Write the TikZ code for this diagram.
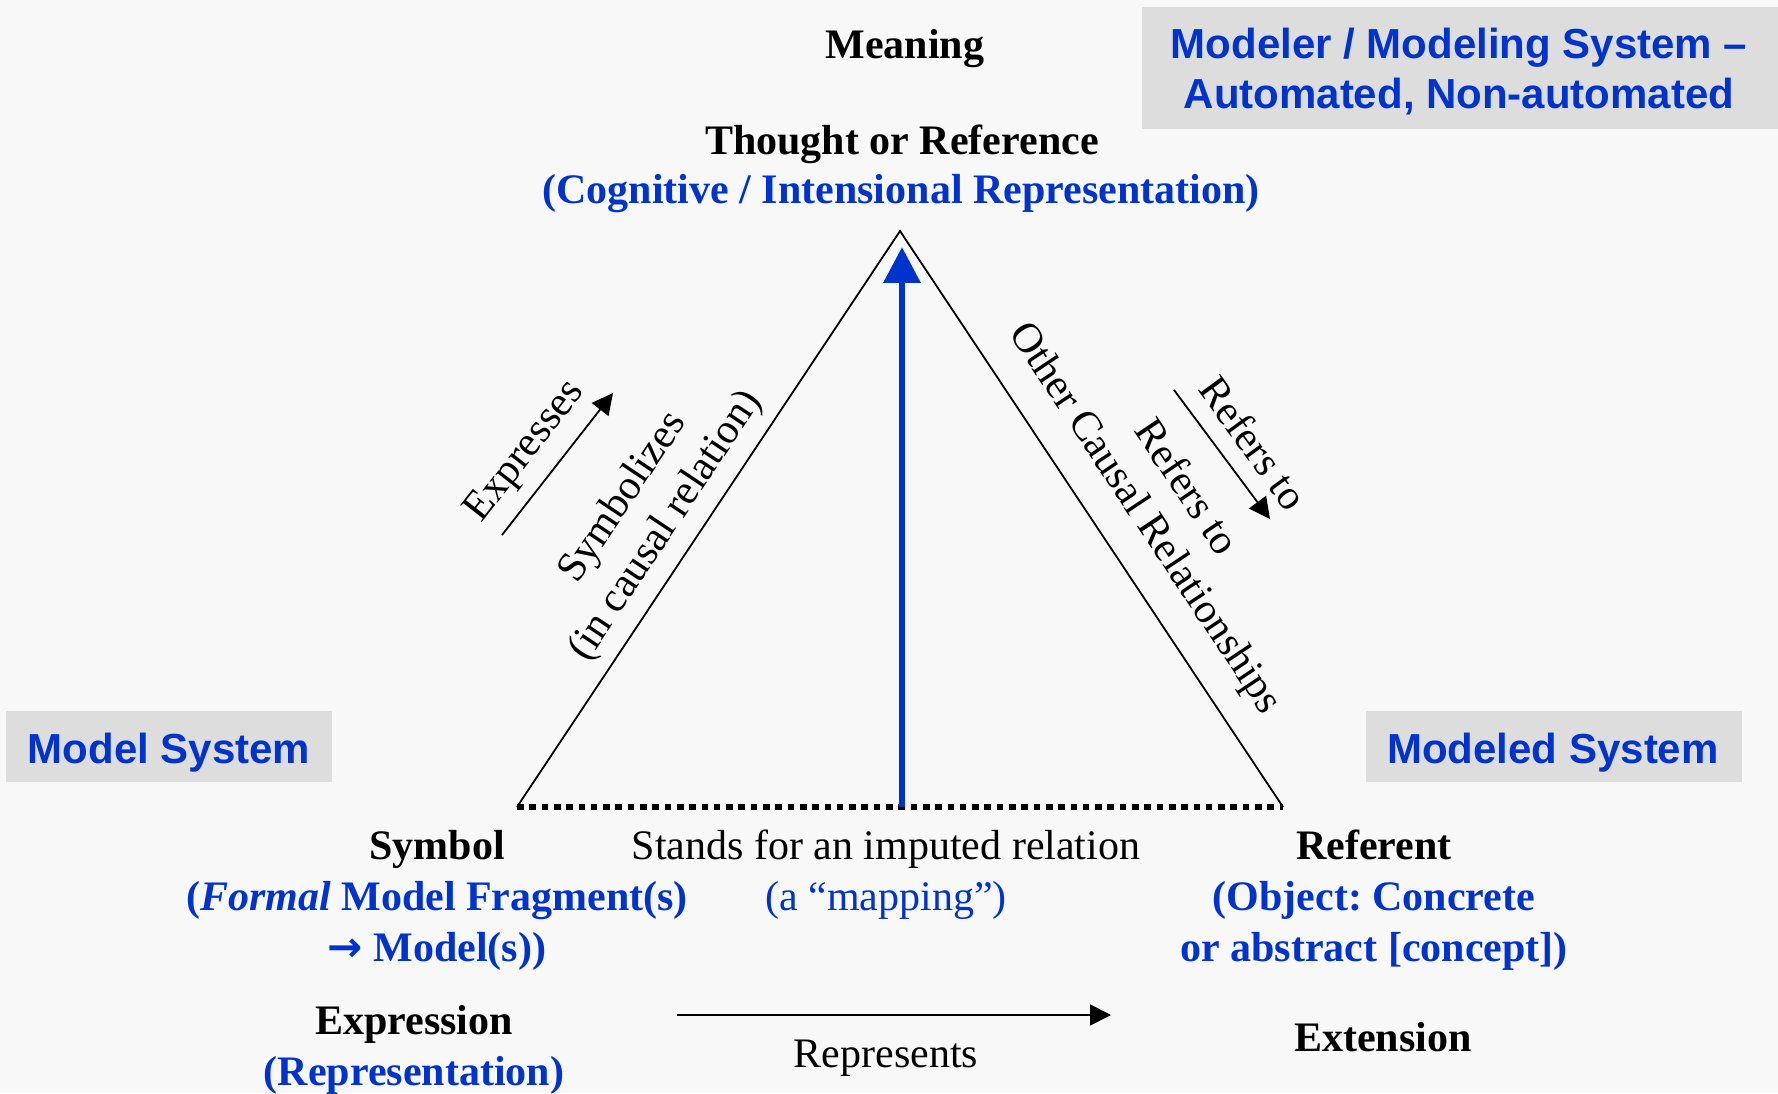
\documentclass[tikz,border=0pt]{standalone}
\usepackage{fontspec}
\setmainfont{Liberation Serif}
\newfontfamily\boxfont{Liberation Sans}
\newfontfamily\arrowfont{DejaVu Sans}
\usetikzlibrary{arrows.meta}
\definecolor{inkblue}{RGB}{0,51,204}
\definecolor{panel}{RGB}{221,221,221}
\definecolor{paper}{RGB}{248,248,248}
\frenchspacing
\begin{document}
\begin{tikzpicture}[x=1pt,y=-1pt,
  every node/.style={inner sep=0pt,outer sep=0pt},
  plain/.style={font=\fontsize{42}{51}\selectfont,align=center},
  heading/.style={font=\fontsize{42}{51}\selectfont\bfseries,align=center},
  tag/.style={text=inkblue,align=center,
    font=\boxfont\fontsize{42}{50}\selectfont\bfseries},
  side/.style={line width=1.8pt},
  relarrow/.style={line width=1.8pt,-{Triangle[length=21pt,width=21pt]}},
  mapping/.style={line width=6.8pt,dash pattern=on 6.6pt off 5.7pt},
  thrust/.style={draw=inkblue,line width=6.8pt,
    -{Triangle[length=36pt,width=36pt]},shorten >=-2pt}]

% paper
\fill[paper] (0,0) rectangle (1778,1093);

% grey panels behind the system labels
\fill[panel] (6,711) rectangle (332,782);
\fill[panel] (1366,711) rectangle (1742,782);
\fill[panel] (1142,7) rectangle (1778,129);

% corners of the triangle
\coordinate (apex) at (900,231);
\coordinate (symb) at (517,807);
\coordinate (refr) at (1283,807);
\coordinate (base) at (902,807);
\coordinate (top) at (902,249);

% triangle
\draw[side] (symb) -- (apex) -- (refr);
\draw[mapping] (symb) -- (refr);
\draw[thrust] (base) -- (top);

% system labels
\node[tag,anchor=base] (modelsys) at (169,763) {Model System};
\node[tag,anchor=base] (modeledsys) at (1553,763) {Modeled System};
\node[tag,anchor=base] (modeler) at (1459,109)
  {Modeler / Modeling System –\\Automated, Non-automated};

% apex labels
\node[heading,anchor=base] (meaning) at (905,59) {Meaning};
\node[heading,anchor=base] (thought) at (902,155) {Thought or Reference};
\node[heading,anchor=base,text=inkblue] (cognitive) at (901,204)
  {(Cognitive / Intensional Representation)};

% left side
\coordinate (expA) at (502,535);
\coordinate (expB) at (613,393);
\draw[relarrow] (expA) -- (expB);
\node[plain,rotate=52] (expresses) at (526,452) {Expresses};
\node[plain,rotate=56.3] (symbolizes) at (645,512) {Symbolizes\\(in causal relation)};

% right side
\coordinate (refA) at (1174,390);
\coordinate (refB) at (1270,519);
\draw[relarrow] (refA) -- (refB);
\node[plain,rotate=-54] (refersout) at (1254,443) {Refers to};
\node[plain,rotate=-56] (refersin) at (1188,486) {Refers to};
\node[plain,rotate=-56.4] (causal) at (1144,519) {Other Causal Relationships};

% bottom labels (base anchor sits on the last line)
\node[heading,anchor=base] (symbol) at (437,961)
  {Symbol\\\textcolor{inkblue}{(\textit{Formal} Model Fragment(s)}\\
   \textcolor{inkblue}{{\arrowfont\bfseries →} Model(s))}};
\node[plain,anchor=base] (stands) at (886,910)
  {Stands for an imputed relation\\\textcolor{inkblue}{(a “mapping”)}};
\node[heading,anchor=base] (referent) at (1374,961)
  {Referent\\\textcolor{inkblue}{(Object: Concrete}\\
   \textcolor{inkblue}{or abstract [concept])}};

% expression / extension
\node[heading,anchor=base] (expression) at (414,1085)
  {Expression\\\textcolor{inkblue}{(Representation)}};
\node[heading,anchor=base] (extension) at (1383,1051) {Extension};
\coordinate (repA) at (677,1015);
\coordinate (repB) at (1111,1015);
\draw[relarrow] (repA) -- (repB);
\node[plain,anchor=base] (represents) at (886,1067) {Represents};
\end{tikzpicture}
\end{document}
